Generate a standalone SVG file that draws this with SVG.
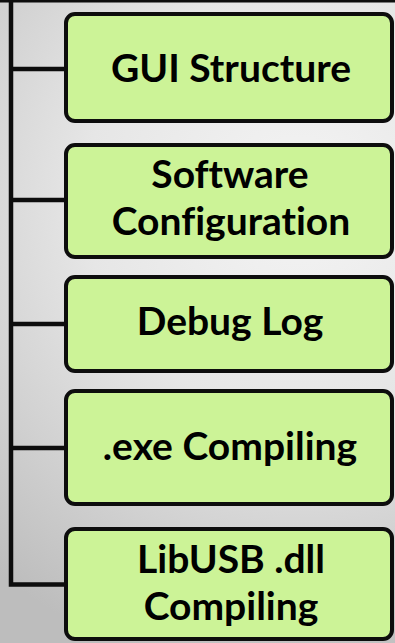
<svg xmlns="http://www.w3.org/2000/svg" width="395" height="643" viewBox="0 0 395 643">
<defs>
<radialGradient id="bg" gradientUnits="userSpaceOnUse" cx="300" cy="200" r="480">
<stop offset="0" stop-color="#f4f4f4"/>
<stop offset="0.45" stop-color="#e6e6e6"/>
<stop offset="1" stop-color="#bdbdbd"/>
</radialGradient>
<style>
.box{fill:#ccf397;stroke:#0d0d0d;stroke-width:4}
.lbl{font-family:Lato,"Open Sans",sans-serif;font-weight:bold;font-size:39px;fill:#000;text-anchor:middle;font-variant-ligatures:none;font-feature-settings:"liga" 0,"dlig" 0}
.conn{stroke:#0d0d0d;fill:none;stroke-width:4.5}
</style>
</defs>
<rect x="0" y="0" width="395" height="643" fill="url(#bg)"/>
<rect x="0" y="0" width="395" height="2.5" fill="#0d0d0d"/>
<g id="connectors">
<path class="conn" d="M11 0 V584.5 H66" stroke-width="5"/>
<path class="conn" d="M11 69 H66"/>
<path class="conn" d="M11 200 H66"/>
<path class="conn" d="M11 324 H66"/>
<path class="conn" d="M11 448 H66"/>
</g>
<g id="gui-structure">
<rect class="box" x="66" y="14" width="326" height="107" rx="9"/>
<text class="lbl" x="231" y="82">GUI Structure</text>
</g>
<g id="software-configuration">
<rect class="box" x="66" y="145" width="326" height="112" rx="9"/>
<text class="lbl" x="230" y="188">Software</text>
<text class="lbl" x="231" y="235">Configuration</text>
</g>
<g id="debug-log">
<rect class="box" x="66" y="277" width="326" height="94" rx="9"/>
<text class="lbl" x="230" y="335">Debug Log</text>
</g>
<g id="exe-compiling">
<rect class="box" x="66" y="391" width="326" height="113" rx="9"/>
<text class="lbl" x="230" y="460">.exe Compiling</text>
</g>
<g id="libusb-dll-compiling">
<rect class="box" x="66" y="529" width="326" height="110" rx="9"/>
<text class="lbl" x="231" y="573">LibUSB .dll</text>
<text class="lbl" x="231" y="620">Compiling</text>
</g>
</svg>
